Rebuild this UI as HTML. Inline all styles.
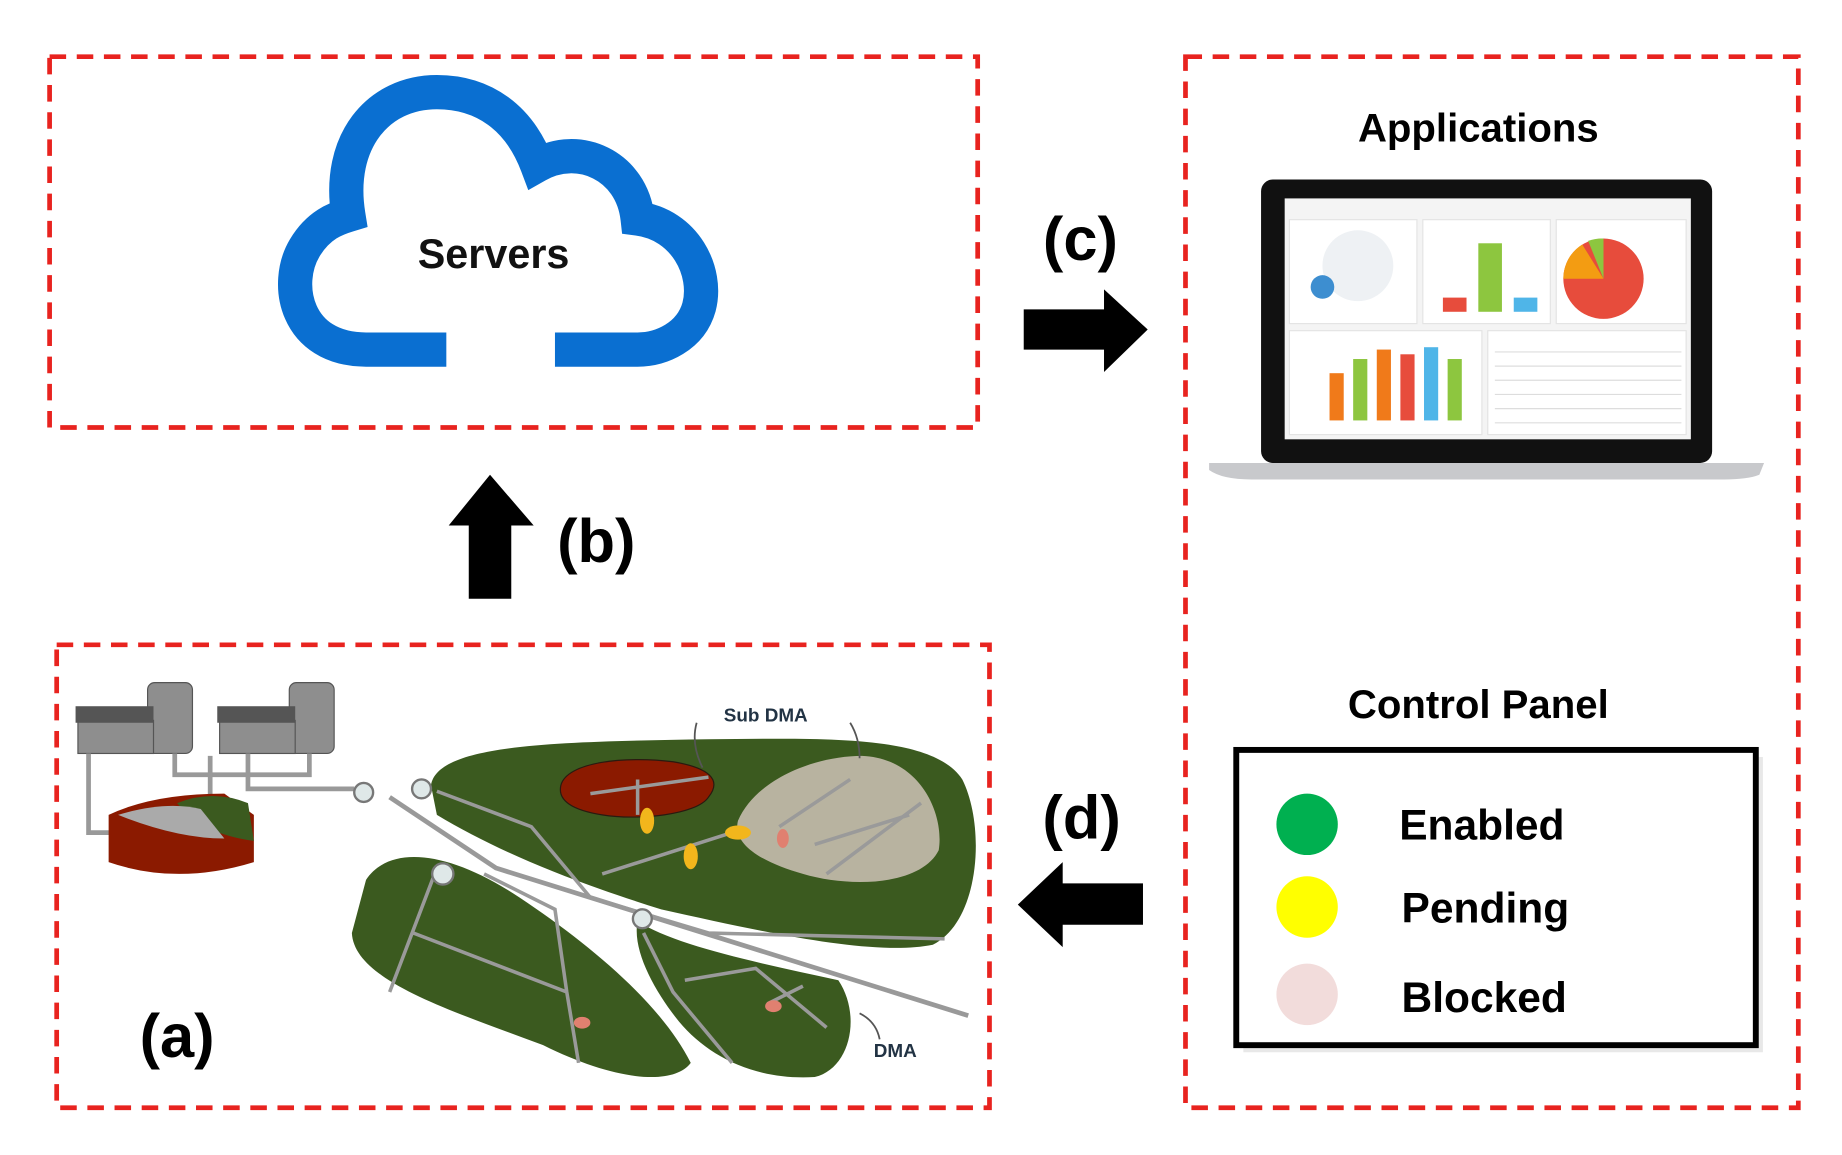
<!DOCTYPE html>
<html><head><style>html,body{margin:0;padding:0;background:#fff}svg{display:block}</style></head>
<body>
<svg width="1842" height="1155" viewBox="0 0 1560 978" preserveAspectRatio="none" xmlns="http://www.w3.org/2000/svg" font-family="Liberation Sans, sans-serif">
<rect width="1560" height="978" fill="#fff"/>
<g fill="none" stroke="#e8231f" stroke-width="4" stroke-dasharray="14,9">
<rect x="42" y="48" width="786" height="314"/>
<rect x="1004" y="48" width="519" height="890"/>
<rect x="48" y="546" width="790" height="392"/>
</g>
<!-- cloud -->
<path d="M378,296 H310 C250,296 240,240 258,210 C270,190 285,185 295,182 C285,120 320,78 370,78 C410,78 440,100 455,140 C490,120 535,140 540,185 C580,190 600,230 592,260 C585,285 560,296 540,296 H470" fill="none" stroke="#0a6fd1" stroke-width="29"/>
<text x="418" y="227" font-size="35" font-weight="bold" text-anchor="middle" fill="#111">Servers</text>
<!-- arrows -->
<polygon points="867,262 935,262 935,245 972,279 935,315 935,296 867,296" fill="#000"/>
<text x="915" y="220" font-size="52" font-weight="bold" text-anchor="middle">(c)</text>
<polygon points="397,507 433,507 433,445 452,445 415,402 380,445 397,445" fill="#000"/>
<text x="505" y="476" font-size="52" font-weight="bold" text-anchor="middle">(b)</text>
<polygon points="968,748 900,748 900,730 862,766 900,802 900,783 968,783" fill="#000"/>
<text x="916" y="710" font-size="52" font-weight="bold" text-anchor="middle">(d)</text>
<text x="150" y="895" font-size="52" font-weight="bold" text-anchor="middle">(a)</text>
<!-- applications -->
<text x="1252" y="120" font-size="34" font-weight="bold" text-anchor="middle">Applications</text>
<rect x="1068" y="152" width="382" height="240" rx="10" fill="#111"/>
<rect x="1088" y="168" width="344" height="204" fill="#f4f4f4"/>
<path d="M1024,392 H1494 L1490,402 Q1480,406 1460,406 H1060 Q1035,406 1024,398 Z" fill="#c8c9cc"/>
<g fill="#fff" stroke="#e4e4e4">
<rect x="1092" y="186" width="108" height="88"/><rect x="1205" y="186" width="108" height="88"/><rect x="1318" y="186" width="110" height="88"/>
<rect x="1092" y="280" width="163" height="88"/><rect x="1260" y="280" width="168" height="88"/>
</g>
<circle cx="1150" cy="225" r="30" fill="#eef1f4"/><circle cx="1120" cy="243" r="10" fill="#3d8ed0"/>
<rect x="1222" y="252" width="20" height="12" fill="#e74c3c"/><rect x="1252" y="206" width="20" height="58" fill="#8dc63f"/><rect x="1282" y="252" width="20" height="12" fill="#4fb5e8"/>
<circle cx="1358" cy="236" r="34" fill="#e74c3c"/>
<path d="M1358,236 L1324,236 A34,34 0 0 1 1340,207 Z" fill="#f39c12"/>
<path d="M1358,236 L1345,204 A34,34 0 0 1 1358,202 Z" fill="#8dc63f"/>
<g><rect x="1126" y="316" width="12" height="40" fill="#f07a1a"/><rect x="1146" y="304" width="12" height="52" fill="#8dc63f"/><rect x="1166" y="296" width="12" height="60" fill="#f07a1a"/><rect x="1186" y="300" width="12" height="56" fill="#e74c3c"/><rect x="1206" y="294" width="12" height="62" fill="#4fb5e8"/><rect x="1226" y="304" width="12" height="52" fill="#8dc63f"/></g>
<g stroke="#ddd"><line x1="1266" y1="298" x2="1424" y2="298"/><line x1="1266" y1="310" x2="1424" y2="310"/><line x1="1266" y1="322" x2="1424" y2="322"/><line x1="1266" y1="334" x2="1424" y2="334"/><line x1="1266" y1="346" x2="1424" y2="346"/><line x1="1266" y1="358" x2="1424" y2="358"/></g>
<!-- control panel -->
<text x="1252" y="608" font-size="34" font-weight="bold" text-anchor="middle">Control Panel</text>
<rect x="1053" y="641" width="440" height="250" fill="#d8d8d8" opacity="0.6"/>
<rect x="1047" y="635" width="440" height="250" fill="#fff" stroke="#000" stroke-width="5"/>
<circle cx="1107" cy="698" r="26" fill="#00b050"/>
<circle cx="1107" cy="768" r="26" fill="#ffff00"/>
<circle cx="1107" cy="842" r="26" fill="#f2dcdb"/>
<g font-size="36" font-weight="bold"><text x="1185" y="711">Enabled</text><text x="1187" y="781">Pending</text><text x="1187" y="857">Blocked</text></g>
<!-- map -->
<g fill="#8e8e8e" stroke="#555" stroke-width="1">
<rect x="125" y="578" width="38" height="60" rx="6"/><rect x="245" y="578" width="38" height="60" rx="6"/>
<rect x="66" y="610" width="64" height="28"/><rect x="186" y="610" width="64" height="28"/>
</g>
<rect x="64" y="598" width="66" height="14" fill="#555"/><rect x="184" y="598" width="66" height="14" fill="#555"/>
<g fill="none" stroke="#999" stroke-width="4">
<path d="M75,638 V705 H95"/><path d="M148,638 V656 H262 V638"/><path d="M210,638 V668 H300"/><path d="M178,640 V680"/>
<path d="M330,675 L420,735 L820,860"/>
</g>
<path d="M92,690 Q130,672 190,672 L215,690 V730 Q150,750 92,730 Z" fill="#8b1a00"/>
<path d="M150,680 Q180,668 210,680 L215,712 Q170,706 150,680Z" fill="#3b5a1f"/>
<path d="M100,690 Q140,678 170,685 L190,710 Q150,710 100,690 Z" fill="#aaa"/>
<path d="M365,665 C370,630 470,628 600,626 C700,625 790,622 815,660 C835,700 830,780 790,800 C740,810 650,790 560,770 C480,745 420,720 370,690 Z" fill="#3b5a1f"/>
<path d="M310,745 C330,715 380,720 440,760 C500,800 560,850 585,900 C570,920 520,915 460,885 C380,855 300,830 298,790 Z" fill="#3b5a1f"/>
<path d="M540,780 C570,800 640,815 710,830 C730,860 720,905 690,912 C640,915 600,895 575,865 C555,840 535,805 540,780 Z" fill="#3b5a1f"/>
<path d="M475,665 C480,645 530,640 570,645 C600,650 612,660 600,675 C590,690 540,695 510,690 C485,686 472,678 475,665 Z" fill="#8b1a00" stroke="#2a1a10"/>
<path d="M625,695 C640,660 690,640 730,640 C780,642 800,690 795,720 C780,750 720,752 680,740 C645,730 620,715 625,695 Z" fill="#b8b3a0"/>
<g fill="none" stroke="#9a9a9a" stroke-width="3">
<path d="M370,670 L450,700 L500,760 L600,790 L800,795"/><path d="M510,740 L620,705"/><path d="M540,690 V660 M500,672 L600,658"/>
<path d="M660,700 L720,660 M690,715 L770,690 M700,740 L780,680"/><path d="M370,735 L330,840 M350,790 L480,840 L490,900 M410,740 L470,770 L480,840"/>
<path d="M545,790 L570,840 L620,900 M580,830 L640,820 L700,870 M650,850 L680,835"/>
</g>
<g fill="#f2b61c"><ellipse cx="548" cy="695" rx="6" ry="11"/><ellipse cx="625" cy="705" rx="11" ry="6"/><ellipse cx="585" cy="725" rx="6" ry="11"/></g>
<g fill="#e08070"><ellipse cx="663" cy="710" rx="5" ry="8"/><ellipse cx="493" cy="866" rx="7" ry="5"/><ellipse cx="655" cy="852" rx="7" ry="5"/></g>
<g fill="#dfe8e8" stroke="#777" stroke-width="2"><circle cx="308" cy="671" r="8"/><circle cx="357" cy="668" r="8"/><circle cx="375" cy="740" r="9"/><circle cx="544" cy="778" r="8"/></g>
<g font-size="16" font-weight="bold" fill="#223344"><text x="613" y="611">Sub DMA</text><text x="740" y="895">DMA</text></g>
<g fill="none" stroke="#555" stroke-width="1.5"><path d="M590,612 Q585,630 595,650"/><path d="M720,612 Q728,625 728,642"/><path d="M745,880 Q742,865 728,858"/></g>
</svg>
</body></html>
